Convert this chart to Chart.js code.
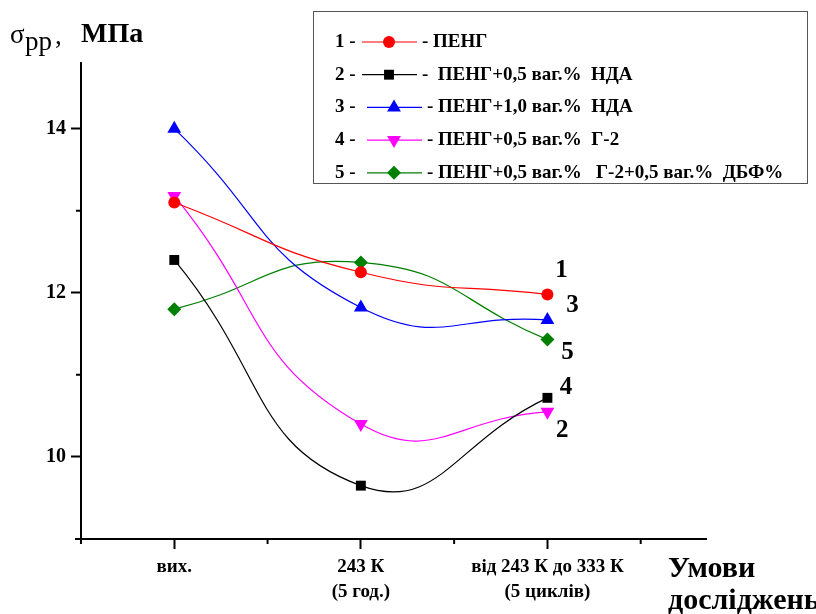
<!DOCTYPE html>
<html>
<head>
<meta charset="utf-8">
<script src="https://cdn.jsdelivr.net/npm/chart.js@4.4.0/dist/chart.umd.min.js"></script>
<style>
	body { margin: 0; background: #fff; }
	canvas { display: block; }
</style>
</head>
<body>
<canvas id="myChart" width="816" height="614"></canvas>
<script>
var conditions = [0, 1, 2];
var conditionLabels = [['вих.'], ['243 К', '(5 год.)'], ['від 243 К до 333 К', '(5 циклів)']];

var peng = [13.1, 12.25, 11.98];
var pengNda05 = [12.4, 9.65, 10.72];
var pengNda10 = [14.0, 11.82, 11.67];
var pengG2 = [13.18, 10.4, 10.55];
var pengG2Dbf = [11.8, 12.37, 11.43];

var legendNumbers = ['1 -', '2 -', '3 -', '4 -', '5 -'];
var legendTexts = ['- ПЕНГ', '-  ПЕНГ+0,5 ваг.%  НДА', '- ПЕНГ+1,0 ваг.%  НДА', '- ПЕНГ+0,5 ваг.%  Г-2', '- ПЕНГ+0,5 ваг.%   Г-2+0,5 ваг.%  ДБФ%'];

var yMajorTicks = [10, 12, 14];
var yMinorTicks = [11, 13];
var xMinorTicks = [0.5, 1.5, 2.5];

var endLabels = ['1', '3', '5', '4', '2'];
var endLabelX = [2.075, 2.134, 2.107, 2.10, 2.08];
var endLabelY = [12.27, 11.84, 11.27, 10.84, 10.32];

var serif = '"Liberation Serif", "Times New Roman", serif';

function points(values) {
	return values.map(function(v, i) {
		return { x: conditions[i], y: v };
	});
}

function series(label, values, color, style, radius, rotation) {
	return {
		label: label,
		data: points(values),
		borderColor: color,
		backgroundColor: color,
		borderWidth: 1.2,
		pointStyle: style,
		pointRadius: radius,
		pointRotation: rotation || 0,
		pointBorderWidth: 0,
		tension: 0.5
	};
}

var datasets = [
	series(legendTexts[0], peng, '#ff0000', 'circle', 6),
	series(legendTexts[1], pengNda05, '#000000', 'rect', 7),
	series(legendTexts[2], pengNda10, '#0000ff', 'triangle', 8),
	series(legendTexts[3], pengG2, '#ff00ff', 'triangle', 8, 180),
	series(legendTexts[4], pengG2Dbf, '#008000', 'rectRot', 7)
];

var extras = {
	id: 'extras',
	afterDraw: function(chart) {
		var ctx = chart.ctx;
		var xs = chart.scales.x;
		var ys = chart.scales.y;
		var area = chart.chartArea;
		ctx.save();

		// minor ticks and axis overhang
		ctx.strokeStyle = '#000';
		ctx.lineWidth = 2;
		ctx.beginPath();
		yMinorTicks.forEach(function(v) {
			var py = ys.getPixelForValue(v);
			ctx.moveTo(area.left - 5, py);
			ctx.lineTo(area.left, py);
		});
		xMinorTicks.forEach(function(v) {
			var px = xs.getPixelForValue(v);
			ctx.moveTo(px, area.bottom);
			ctx.lineTo(px, area.bottom + 5);
		});
		ctx.moveTo(area.left - 6, area.bottom);
		ctx.lineTo(area.left, area.bottom);
		ctx.moveTo(area.left, area.bottom);
		ctx.lineTo(area.left, area.bottom + 5);
		ctx.stroke();

		// y title
		ctx.fillStyle = '#000';
		ctx.textBaseline = 'alphabetic';
		ctx.textAlign = 'left';
		ctx.font = '27px ' + serif;
		ctx.fillText('σ', 10, 43);
		ctx.fillText('рр', 25, 50);
		ctx.fillText(',', 55, 44);
		ctx.font = 'bold 28px ' + serif;
		ctx.fillText('МПа', 81, 42);

		// x title
		ctx.font = 'bold 30px ' + serif;
		ctx.fillText('Умови', 668, 577);
		ctx.fillText('досліджень', 668, 609);

		// labels at the line ends
		ctx.font = 'bold 25px ' + serif;
		ctx.textAlign = 'center';
		ctx.textBaseline = 'middle';
		endLabels.forEach(function(t, i) {
			ctx.fillText(t, xs.getPixelForValue(endLabelX[i]), ys.getPixelForValue(endLabelY[i]));
		});

		// legend
		ctx.strokeStyle = '#555';
		ctx.lineWidth = 1;
		ctx.strokeRect(313.5, 11.5, 494, 172);
		ctx.textAlign = 'left';
		ctx.font = 'bold 19px ' + serif;
		chart.data.datasets.forEach(function(ds, i) {
			var rowY = 42 + i * 32.7;
			var lx = i < 2 ? 362 : 367;
			ctx.fillStyle = '#000';
			ctx.fillText(legendNumbers[i], 335, rowY);
			ctx.strokeStyle = ds.borderColor;
			ctx.lineWidth = 1.2;
			ctx.beginPath();
			ctx.moveTo(lx, rowY);
			ctx.lineTo(lx + 55, rowY);
			ctx.stroke();
			ctx.fillStyle = ds.backgroundColor;
			Chart.helpers.drawPoint(ctx, {
				pointStyle: ds.pointStyle,
				rotation: ds.pointRotation,
				radius: ds.pointRadius,
				borderWidth: 0
			}, lx + 27, rowY);
			ctx.fillStyle = '#000';
			ctx.fillText(legendTexts[i], lx + 60, rowY);
		});
		ctx.restore();
	}
};

var ctx = document.getElementById('myChart').getContext('2d');
var myChart = new Chart(ctx, {
	type: 'line',
	data: { datasets: datasets },
	options: {
		responsive: false,
		animation: false,
		layout: { padding: { left: 0, top: 63, right: 110, bottom: 0 } },
		plugins: {
			legend: { display: false },
			tooltip: { enabled: false }
		},
		scales: {
			x: {
				type: 'linear',
				min: -0.5,
				max: 2.85,
				afterFit: function(s) { s.height = 75; },
				afterBuildTicks: function(s) {
					s.ticks = conditions.map(function(v) { return { value: v }; });
				},
				grid: { drawOnChartArea: false, tickLength: 10, tickWidth: 2, tickColor: '#000' },
				border: { color: '#000', width: 2 },
				ticks: {
					autoSkip: false,
					maxRotation: 0,
					padding: 6,
					color: '#000',
					font: { family: serif, size: 19, weight: 'bold', lineHeight: 1.3 },
					callback: function(v, i) { return conditionLabels[i]; }
				}
			},
			y: {
				min: 9,
				max: 14.8,
				afterFit: function(s) { s.width = 81; },
				afterBuildTicks: function(s) {
					s.ticks = yMajorTicks.map(function(v) { return { value: v }; });
				},
				grid: { drawOnChartArea: false, tickLength: 10, tickWidth: 2, tickColor: '#000' },
				border: { color: '#000', width: 2 },
				ticks: {
					padding: 5,
					color: '#000',
					font: { family: serif, size: 20, weight: 'bold' },
					callback: function(v) { return v; }
				}
			}
		}
	},
	plugins: [extras]
});
</script>
</body>
</html>
